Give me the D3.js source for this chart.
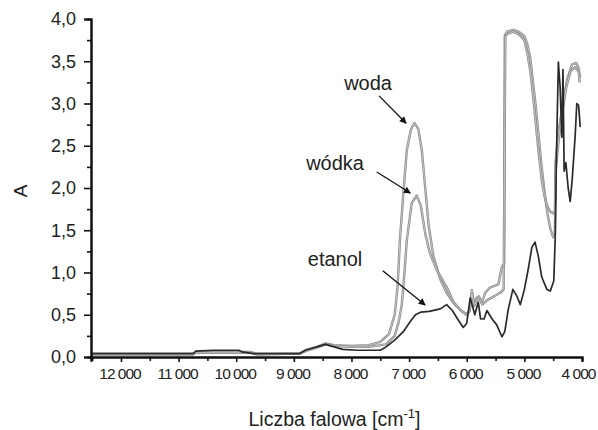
<!DOCTYPE html>
<html>
<head>
<meta charset="utf-8">
<script src="https://cdn.jsdelivr.net/npm/d3@7"></script>
<style>
  body { margin: 0; background: #fff; }
  svg text { font-family: "Liberation Sans", Arial, sans-serif; fill: #222; }
</style>
</head>
<body>
<svg id="spectrum" width="598" height="430"></svg>
<script>
// wavenumbers [cm-1] and absorbance
const wodaWn = [12520, 10750, 10700, 9750, 9700, 8900, 8800, 8600, 8450, 8300, 8000, 7700, 7500, 7350, 7250, 7200, 7160, 7100, 7040, 6970, 6910, 6840, 6780, 6720, 6660, 6580, 6460, 6350, 6230, 6100, 6000, 5950, 5910, 5870, 5830, 5790, 5740, 5680, 5600, 5450, 5390, 5350, 5340, 5300, 5200, 5100, 5000, 4950, 4900, 4850, 4800, 4750, 4700, 4650, 4600, 4550, 4500, 4470, 4460, 4400, 4330, 4260, 4175, 4100, 4060, 4030];
const wodaA = [0.04, 0.04, 0.06, 0.06, 0.04, 0.04, 0.08, 0.12, 0.16, 0.14, 0.13, 0.14, 0.18, 0.27, 0.5, 0.83, 1.38, 1.94, 2.45, 2.69, 2.77, 2.7, 2.45, 2.0, 1.55, 1.2, 0.92, 0.76, 0.64, 0.55, 0.5, 0.55, 0.79, 0.6, 0.7, 0.72, 0.64, 0.76, 0.82, 0.86, 1.07, 1.1, 3.8, 3.85, 3.87, 3.85, 3.8, 3.7, 3.55, 3.25, 2.95, 2.6, 2.25, 1.95, 1.7, 1.52, 1.42, 1.45, 2.3, 2.7, 3.0, 3.28, 3.46, 3.48, 3.42, 3.3];

const wodkaWn = [12520, 10750, 10700, 9700, 9650, 8900, 8800, 8600, 8450, 8300, 8000, 7700, 7400, 7250, 7186, 7130, 7100, 7040, 6955, 6870, 6800, 6720, 6640, 6520, 6350, 6230, 6100, 6000, 5950, 5910, 5870, 5820, 5780, 5730, 5650, 5420, 5360, 5330, 5300, 5200, 5100, 5000, 4950, 4900, 4850, 4800, 4750, 4700, 4650, 4600, 4550, 4500, 4470, 4460, 4400, 4330, 4270, 4200, 4120, 4060, 4040];
const wodkaA = [0.03, 0.03, 0.05, 0.05, 0.03, 0.04, 0.07, 0.11, 0.15, 0.13, 0.12, 0.12, 0.15, 0.25, 0.4, 0.6, 0.83, 1.38, 1.82, 1.91, 1.8, 1.46, 1.23, 1.03, 0.83, 0.65, 0.55, 0.5, 0.55, 0.75, 0.62, 0.68, 0.7, 0.62, 0.67, 0.76, 0.8, 3.8, 3.82, 3.85, 3.82, 3.75, 3.6, 3.4, 3.1, 2.75, 2.4, 2.1, 1.9, 1.78, 1.72, 1.7, 1.72, 2.2, 2.6, 2.95, 3.2, 3.38, 3.43, 3.38, 3.25];

const etanolWn = [12520, 10750, 10700, 10400, 9950, 9900, 9700, 8900, 8800, 8600, 8450, 8300, 8150, 7900, 7500, 7400, 7250, 7100, 6980, 6890, 6800, 6650, 6460, 6350, 6250, 6150, 6060, 6000, 5940, 5900, 5860, 5800, 5760, 5700, 5650, 5560, 5480, 5390, 5340, 5280, 5200, 5130, 5070, 5000, 4930, 4870, 4815, 4760, 4700, 4610, 4550, 4490, 4465, 4440, 4410, 4380, 4350, 4330, 4310, 4280, 4240, 4205, 4170, 4120, 4090, 4060, 4030];
const etanolA = [0.04, 0.04, 0.07, 0.08, 0.08, 0.06, 0.04, 0.04, 0.08, 0.12, 0.15, 0.12, 0.09, 0.08, 0.08, 0.12, 0.2, 0.3, 0.42, 0.5, 0.53, 0.54, 0.57, 0.62, 0.55, 0.44, 0.35, 0.4, 0.7, 0.6, 0.5, 0.65, 0.45, 0.45, 0.55, 0.45, 0.38, 0.24, 0.3, 0.56, 0.8, 0.72, 0.62, 0.8, 1.05, 1.3, 1.36, 1.2, 0.95, 0.8, 0.78, 0.9, 1.4, 2.5, 3.49, 3.2, 2.6, 3.4, 2.2, 2.3, 2.0, 1.84, 2.1, 2.6, 3.0, 2.98, 2.72];

const xTicks = [12000, 11000, 10000, 9000, 8000, 7000, 6000, 5000, 4000];
const yTicks = [0, 0.5, 1, 1.5, 2, 2.5, 3, 3.5, 4];

// labels with arrows: text position, arrow start, arrow tip (data units)
const labelNames = ["woda", "wódka", "etanol"];
const labelAt = [[7712, 3.16], [8285, 2.21], [8285, 1.08]];
const arrowFrom = [[7521, 3.09], [7561, 2.19], [7457, 1.02]];
const arrowTo = [[7052, 2.766], [6979, 1.94], [6722, 0.615]];

const svg = d3.select("svg#spectrum");
const margins = { top: 19, right: 16, bottom: 73, left: 91 };
const width = +svg.attr("width");
const height = +svg.attr("height");

const xScale = d3.scaleLinear().domain([12520, 4000]).range([margins.left, width - margins.right]);
const yScale = d3.scaleLinear().domain([0, 4]).range([height - margins.bottom, margins.top]);

const comma = d3.formatLocale({ decimal: ",", thousands: " ", grouping: [3], currency: ["", ""] });
const fmtY = comma.format(".1f");
const fmtX = comma.format(",d");

// series lines
const line = d3.line().x(d => xScale(d[0])).y(d => yScale(d[1]));
const zipped = (wn, a) => wn.map((w, i) => [w, a[i]]);

function grayTrace(data) {
  svg.append("path").datum(data).attr("d", line)
    .attr("fill", "none").attr("stroke", "#8a8a8a").attr("stroke-width", 2.4)
    .attr("stroke-linejoin", "round");
  svg.append("path").datum(data).attr("d", line)
    .attr("fill", "none").attr("stroke", "#dcdcdc").attr("stroke-width", 0.7)
    .attr("stroke-linejoin", "round");
}
grayTrace(zipped(wodaWn, wodaA));
grayTrace(zipped(wodkaWn, wodkaA));

svg.append("path").datum(zipped(etanolWn, etanolA)).attr("d", line)
  .attr("fill", "none").attr("stroke", "#2a2a2a").attr("stroke-width", 1.7)
  .attr("stroke-linejoin", "round");

// axes
const bottomAxis = d3.axisBottom(xScale).tickValues(xTicks).tickSize(5).tickPadding(6)
  .tickFormat(d => fmtX(d));
const bottomMinor = d3.axisBottom(xScale).tickValues(d3.range(12500, 3999, -1000)).tickSize(4).tickFormat("");
const leftAxis = d3.axisLeft(yScale).tickValues(yTicks).tickSize(7).tickPadding(8)
  .tickFormat(d => fmtY(d));
const leftMinor = d3.axisLeft(yScale).tickValues(d3.range(0.25, 4, 0.5)).tickSize(4).tickFormat("");

function styleAxis(g) {
  g.select(".domain").attr("stroke", "#111").attr("stroke-width", 2);
  g.selectAll(".tick line").attr("stroke", "#111").attr("stroke-width", 1.6);
}

svg.append("g").attr("transform", `translate(0,${height - margins.bottom})`)
  .call(bottomMinor).call(styleAxis);
const gx = svg.append("g").attr("transform", `translate(0,${height - margins.bottom})`)
  .call(bottomAxis).call(styleAxis);
gx.selectAll(".tick text").attr("font-size", 15.5).attr("letter-spacing", "-1px").attr("fill", "#222")
  .attr("dx", d => d === 4000 ? -4 : -1.5)
  .attr("font-family", "Liberation Sans, Arial, sans-serif");

svg.append("g").attr("transform", `translate(${margins.left},0)`)
  .call(leftMinor).call(styleAxis);
const gy = svg.append("g").attr("transform", `translate(${margins.left},0)`)
  .call(leftAxis).call(styleAxis);
gy.selectAll(".tick text").attr("font-size", 18).attr("fill", "#222")
  .attr("font-family", "Liberation Sans, Arial, sans-serif");

// axis titles
svg.append("text")
  .attr("transform", `translate(27,${yScale(2) + 3}) rotate(-90)`)
  .attr("text-anchor", "middle")
  .attr("font-size", 19)
  .text("A");

const xTitle = svg.append("text")
  .attr("x", (xScale(12520) + xScale(4000)) / 2 - 2)
  .attr("y", 426)
  .attr("text-anchor", "middle")
  .attr("font-size", 19.5);
xTitle.append("tspan").text("Liczba falowa [cm");
xTitle.append("tspan").attr("font-size", 13).attr("dy", -8).text("-1");
xTitle.append("tspan").attr("dy", 8).text("]");

// arrow labels
svg.append("defs").append("marker")
  .attr("id", "head").attr("viewBox", "0 0 10 10")
  .attr("refX", 9).attr("refY", 5)
  .attr("markerWidth", 9).attr("markerHeight", 7)
  .attr("markerUnits", "userSpaceOnUse")
  .attr("orient", "auto")
  .append("path").attr("d", "M0,0L10,5L0,10Z").attr("fill", "#111");

labelNames.forEach((name, i) => {
  svg.append("text")
    .attr("x", xScale(labelAt[i][0]))
    .attr("y", yScale(labelAt[i][1]))
    .attr("text-anchor", "middle")
    .attr("font-size", 20)
    .text(name);
  svg.append("line")
    .attr("x1", xScale(arrowFrom[i][0])).attr("y1", yScale(arrowFrom[i][1]))
    .attr("x2", xScale(arrowTo[i][0])).attr("y2", yScale(arrowTo[i][1]))
    .attr("stroke", "#111").attr("stroke-width", 1.3)
    .attr("marker-end", "url(#head)");
});
</script>
</body>
</html>
